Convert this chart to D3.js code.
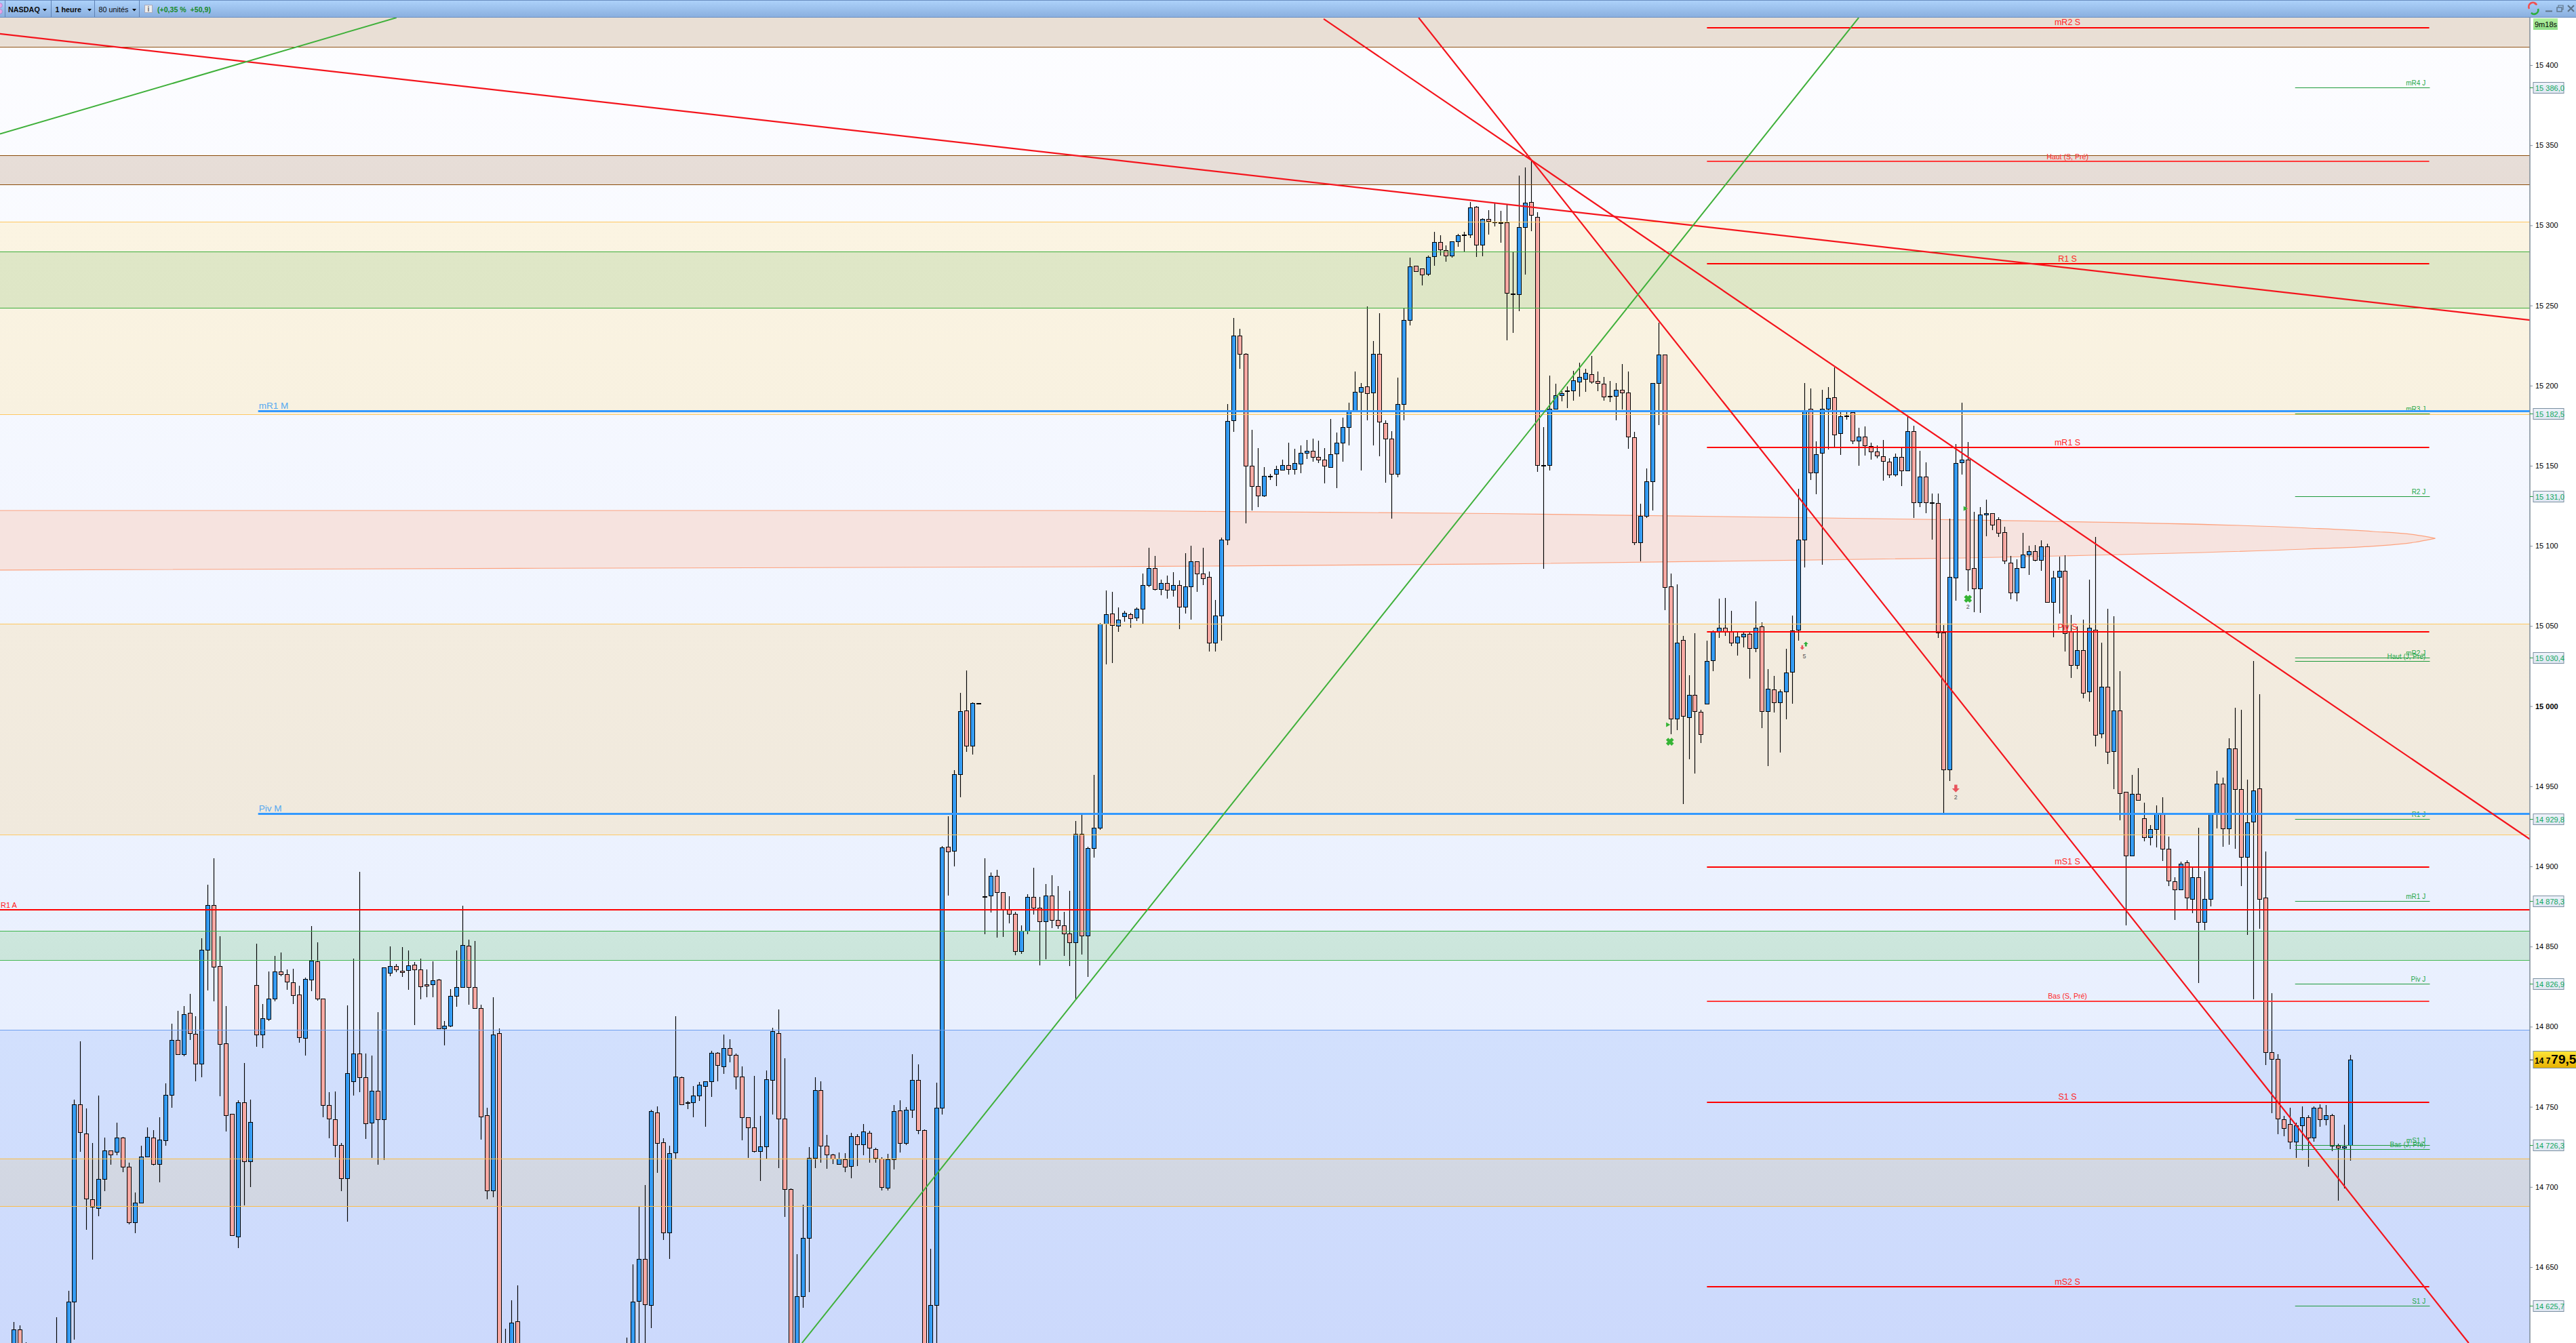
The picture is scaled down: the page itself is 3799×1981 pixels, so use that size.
<!DOCTYPE html>
<html><head><meta charset="utf-8">
<script src="https://d3js.org/d3.v7.min.js"></script>
<style>html,body{margin:0;padding:0;background:#fff;overflow:hidden}svg{display:block;font-family:"Liberation Sans",Arial,sans-serif}</style>
</head><body>
<svg id="c" width="3799" height="1981"></svg>
<script>
// ---- values ----
const firstBar = -9;
const n = null;
const N17 = Array(17).fill(null);
const directions = ("UDD----U-"+"UUDDDUUDUD"+"DUUUDUUUDU"+"DDUUDDDDUD"+"UDUUUDDDDU"+"UDDDDDUUDD"+"UDUUDDUDDD"+"UDUUUUDDDD"+"UDDUD"+"-----------------"+"UUUDUDDU"+"UDDUUUUDUD"+"DDDDUUUDDD"+"UUUUDDDUDU"+"DUDDDUUDUU"+"DDUUUDUUDU"+"UDUDDDDUUD"+"DUDDDDUDUU"+"UUDUUDUUUD"+"UDUDUUDDDU"+"UUUDDDDUDU"+"UDUUUDDDUU"+"UUUUDUDDDU"+"UUDDUUDDUU"+"UUDUDDDDDU"+"UDDDUUUUUU"+"UDDDDUDDDU"+"UUUDDUDUDD"+"UUUDDUUDUD"+"UDUUUUUDUU"+"UDUDDUDDDD"+"DUDUDUDDDD"+"UUUDDUUDDD"+"DUUUDUDUUD"+"DUDUDUDUDD"+"UDDUUDDDUD"+"UDUUUDUDDU"+"UDDDDDDUUD"+"UDUDDUU").split("");
const highs = [14615.6,14613.6,14603.2,n,n,n,n,14618.8,n,
14635.1,14754.4,14790.9,14748.9,14727.4,14757,14730.8,14722.9,14740,14731.4,
14715.2,14696.5,14725.6,14737.1,14735.5,14743.4,14764.7,14801.8,14810,14812.8,
14820.5,14806.5,14855,14888.5,14905.1,14856.4,14812.8,14745.6,14754,14777.5,
14754.6,14851.7,14814.2,14834.3,14844,14846.3,14835.9,14836.1,14825.4,14830.6,
14862.7,14852.6,14817.7,14759.2,14759.6,14727.6,14813.2,14842.4,14896.6,14783.4,
14781.8,14809,14837,14850.1,14839.2,14849.7,14847.5,14840.2,14842.4,14835.7,
14840.8,14829.8,14803.5,14823.3,14847.5,14875.5,14854.2,14853.4,14813.6,14749.5,
14818.5,14799,14611.3,14629.2,14638.5,...N17,
14606,14651.8,14687.5,14701,14748.1,14750.3,14730.4,14725.9,
14806.4,14768.8,14753.7,14763,14765.6,14766.1,14784.9,14784.1,14795,14792.1,
14783.3,14775.1,14743.4,14769.3,14744.2,14772.8,14799.5,14810.6,14780.2,14698.9,
14657.9,14688.8,14724.8,14768.5,14766.1,14732.5,14720.6,14721.7,14721.1,14733.8,
14733,14739.1,14734.9,14724.3,14718.5,14720.6,14751.3,14754.2,14749.7,14782.8,
14776.5,14735.7,14661.3,14765.1,14912.5,14931.2,14960,15008.3,15022.2,15002.4,
15001.8,14905.1,14896.4,14897.8,14884.1,14881.3,14871.6,14863.2,14882.6,14899.1,
14881,14889,14894.4,14887.6,14871.6,14884.7,14928.3,14932.5,14912.2,14957.1,
15051.9,15072.2,15071.3,15061.6,15059.5,15058.2,15061.6,15082.7,15098.8,15093.7,
15078.9,15081.5,15083.6,15078.5,15095.4,15100.1,15090.2,15098.8,15083.9,15066.3,
15105.1,15188.3,15242.4,15235.5,15220.2,15172.3,15161,15149.2,15145,15150,
15153.7,15164.4,15160.5,15162.6,15166,15167,15165.7,15161,15179.1,15170.7,
15180.1,15189.3,15208.7,15201.5,15249.2,15227.8,15245,15178.3,15171.5,15205,
15248.1,15279.9,15274.6,15273,15281,15295.9,15293.8,15287.5,15290,15294.5,
15295.8,15314.6,15312,15304.4,15309.5,15314.3,15309.1,15312.9,15283.3,15331,
15336.1,15339.8,15308.1,15174.1,15206.2,15201.1,15196.6,15199.4,15209.1,15214.2,
15210.5,15218.5,15208.7,15205.3,15202.9,15201.5,15213.4,15208.7,15171,15126.5,
15148.4,15201.8,15239.3,15219.3,15082.8,15075.9,15043.7,15019.2,15045.5,14997.6,
15040.9,15047.1,15067.2,15067.4,15059.5,15046.7,15045.9,15046.9,15065.2,15052.4,
15023.3,15018.8,15010.5,15035.8,15056.5,15135.6,15201.4,15198.1,15165.1,15197.3,
15199.1,15211.5,15183.6,15183.8,15183.6,15173.6,15174.5,15164.3,15162.7,15165.9,
15154.8,15157.5,15161.7,15180.9,15174.9,15159.5,15152,15132.8,15132.8,15050.8,
15116.8,15163.7,15189.2,15164.8,15121.2,15124.4,15128.7,15120.5,15118,15112.1,
15093.6,15091.8,15108.2,15100,15100.5,15103.5,15101.3,15084.3,15093.4,15094,
15056.9,15049.8,15054.1,15078.9,15105.4,15039.6,15060.8,15056,15021.9,14946.6,
14957.2,14961.3,14939.7,14925.9,14938.2,14943.2,14918.6,14893.3,14903,14903.9,
14900.2,14924.2,14897,14933.2,14959.6,14955.5,14980.1,14999,14997.8,14954.2,
15028,15007.5,14909.3,14820.9,14782.8,14744.2,14749.2,14740,14750.1,14744.6,
14750.1,14751.4,14751,14745.5,14726.9,14738.7,14782.6];
const bodyTops = [14610.9,14610.9,14598,n,n,n,n,14598,n,
14628.6,14751.7,14751.7,14733.5,14692.5,14705.1,14722.9,14722.9,14731,14731,
14712.8,14690,14719.1,14731.4,14731,14729.4,14757.6,14791.5,14791.5,14807.9,
14808.5,14795.7,14848.1,14875.7,14875.7,14838,14789.7,14745.4,14753,14753,
14740.6,14825.8,14805.3,14817.7,14834.5,14834.5,14832.9,14827.8,14819.9,14829.6,
14841,14840.6,14817.7,14751.3,14742.4,14726.2,14770.8,14783.4,14783.4,14768.6,
14759.8,14759.8,14837,14838,14838,14834.7,14838.4,14838.8,14835.9,14826.2,
14828.8,14829.2,14800.4,14819.3,14824.8,14851.1,14850.7,14824.8,14811.8,14744.6,
14795.3,14796,14600,14615.4,14616,...N17,
14598,14628.5,14655.2,14655.2,14747.1,14746.5,14727.8,14721.1,
14768.8,14768.3,14752.9,14757.1,14764,14766.1,14783.6,14783.6,14786.5,14786.5,
14782.5,14769,14743.4,14737.3,14725.1,14767.2,14797.1,14796,14742.8,14698.6,
14631.9,14668.2,14718,14760.6,14760.6,14725.9,14720.3,14717.7,14717.4,14731.7,
14731.7,14734.4,14733.8,14723.8,14717.7,14717.2,14747.3,14747.9,14748.1,14766.9,
14766.9,14735.4,14626.4,14749.2,14912,14912.1,14957.7,14996.8,14997.1,15001.8,
15001.8,14881.5,14893.9,14893.9,14883.8,14872.9,14870.6,14859.9,14880.8,14880.8,
14874,14882,14882,14866.7,14863,14858.3,14920.5,14920.2,14911.3,14924.2,
15051.3,15057.2,15057.6,15053.8,15058.1,15057.5,15060.6,15075.4,15086,15086,
15076.7,15076.7,15075.4,15075.4,15074.6,15090.2,15090.2,15082.6,15080.8,15056.6,
15104,15178.1,15231.4,15231.4,15219.6,15149.8,15137.2,15143.8,15143.5,15147.7,
15150.3,15150.3,15151.9,15158.2,15159.5,15159.5,15155.3,15154,15157.4,15164.5,
15174.3,15184.5,15196.3,15199.2,15199.4,15220,15220,15176.5,15166.8,15188.3,
15240.8,15274.2,15274.6,15273,15280.2,15289.4,15289.4,15284.4,15289.9,15293.7,
15294.1,15311,15311.4,15303.8,15303.8,15302.4,15301.9,15302,15257.3,15298.8,
15314,15314.4,15305.1,15150.6,15185.6,15194.2,15195.1,15196.8,15203.1,15205.3,
15207.8,15207.3,15202.8,15201,15193.5,15197.2,15197.2,15195.5,15167.9,15118.6,
15140.4,15201.5,15219.3,15219.3,15074.5,15039.6,15041.1,15007.1,15007.1,14996.5,
15028.3,15046.3,15049,15049,15046.3,15043.5,15044.9,15044.9,15049,15049.6,
15010.9,15010.5,15009.3,15021,15047.3,15104,15184.6,15185.4,15157.4,15185.4,
15192.5,15192.9,15180.7,15181.1,15183.6,15168.4,15168,15162.3,15158.7,15156,
15152.4,15155.6,15155.6,15171.4,15171.4,15143.1,15143.1,15127.3,15126.9,15045.9,
15080.7,15151.8,15154,15154,15086,15119.7,15120.5,15120.5,15116.5,15108.7,
15089.7,15086.2,15094.4,15096.6,15096.6,15099.8,15099.8,15080.4,15084.3,15084.3,
15046.5,15035.1,15035.1,15048.7,15047.8,15012.2,15012,14997.5,14997.1,14946.4,
14945.1,14945.1,14930.2,14923.1,14933.2,14933.2,14911.2,14890.5,14901.9,14902.4,
14893.1,14893.1,14879.5,14932.8,14951.8,14951.4,14973.4,14973.4,14948.1,14927.4,
14947.3,14948.8,14880.4,14784.3,14780,14742.4,14739.1,14738.5,14743.3,14743.3,
14749.5,14749.5,14744.6,14744.6,14725.6,14725.5,14779.5];
const bodyBottoms = [14590,14590,14590,n,n,n,n,14585,n,
14590,14628.6,14734.3,14692.9,14687.6,14687,14705.1,14720.3,14722.1,14712.4,
14678.1,14678.1,14690,14719.1,14714.4,14714.4,14729.2,14757.6,14783,14783,
14796,14776.7,14776.7,14848.1,14837.5,14789.3,14744.6,14670,14669.2,14715.8,
14715.8,14794.9,14795.3,14804.9,14817.7,14832.9,14828.2,14819.7,14793.5,14793.1,
14829.2,14817.7,14751.3,14742.8,14726.2,14705.5,14705.5,14765.7,14768.6,14739.8,
14740.2,14742.4,14742.4,14833.7,14835.5,14834.1,14835.1,14835.9,14825.2,14825.6,
14826.2,14799,14799,14800.6,14819.3,14824.8,14824.8,14811.4,14744,14697.6,
14698,14590,14590,14590,14590,...N17,
14590,14590,14628.8,14626.9,14626.1,14727.5,14671.4,14671.4,
14721.4,14751.6,14752.4,14752.6,14756.9,14763,14766.1,14775.9,14775.4,14782.5,
14768.8,14743.4,14737.3,14722.2,14722.2,14725.1,14766.9,14742.8,14698.6,14590,
14590,14631.7,14668.2,14718.2,14725.9,14720.3,14717.7,14714.5,14712.7,14712.9,
14726.4,14726.4,14724.3,14718.2,14700,14699.7,14717.4,14727.2,14727.5,14748.1,
14735.4,14590,14590,14626.4,14749.2,14909.5,14909.8,14957.7,14975.5,14975.5,
15001.8,14880.8,14881.6,14883.8,14872.9,14870.6,14847.3,14847.3,14859.9,14874,
14865.9,14865.9,14866.4,14863,14858.3,14852.8,14852.8,14857,14856.7,14911.6,
14924.2,15051.5,15050.4,15050,15056,15054.7,15055.1,15060.6,15075.4,15072.9,
15072.9,15072.4,15072.4,15061.9,15061.9,15074.6,15082.6,15079.6,15039.4,15039.4,
15056.6,15104,15178.5,15219.9,15149.8,15137.2,15131.2,15131.2,15143.2,15144.8,
15147.4,15148,15147.7,15151.4,15158.2,15155.3,15154,15149.8,15149.3,15157.7,
15164.5,15174.3,15184.5,15196.3,15195.1,15195.5,15177.3,15167.1,15145.1,15145.1,
15188.3,15240.8,15271.3,15269.2,15269.6,15280.6,15284.8,15281,15281,15289.9,
15293.7,15294.1,15287.8,15287.8,15302.6,15301.7,15301.7,15257.7,15256.9,15256.9,
15298.8,15306.4,15150.6,15150.1,15150.6,15185.6,15194.2,15196.4,15196.8,15202.6,
15204.2,15202.3,15201.5,15193,15193.2,15193.4,15195.6,15168.1,15102.4,15102.4,
15118.6,15140.4,15201.8,15074.2,14992.3,14992.3,14993.7,14993.1,14997,14982.6,
15001.4,15028.7,15046.3,15046.3,15039.6,15039.6,15043.5,15036.4,15036.4,14997,
14997,15002.4,15002.4,15009.3,15021.6,15047.8,15104,15145.9,15145.9,15157.9,
15185.4,15169.6,15170.4,15180.7,15165.8,15165.8,15162.5,15158.7,15156.4,15153,
15144.7,15144.7,15147.1,15147.1,15127.3,15127.3,15127.3,15127.1,15045.9,14960.5,
14960.5,15080.3,15152.2,15085.4,15073.3,15073.3,15119.7,15113,15108.2,15090.6,
15070.7,15070.7,15086.4,15094.4,15091.4,15091,15065.1,15065.1,15080.8,15045.7,
15025.8,15025.8,15008.5,15009,14982.2,14982.7,14971.6,14972.1,14945.5,14906.9,
14906.9,14941.6,14918.3,14918.3,14923.1,14911.2,14891,14885.8,14885.5,14880.4,
14879.9,14865.5,14865.5,14879.9,14933.2,14923.9,14923.5,14948.1,14905.8,14905.8,
14927.8,14879.9,14784.3,14780,14742.7,14736.9,14728.4,14728.4,14738.5,14731,
14731,14742.2,14742.4,14725.6,14724.5,14724.5,14726.2];
const lows = [14580,14585,14585,n,n,n,n,14580,n,
14580,14604.6,14722.1,14673.2,14654.6,14681.7,14697.2,14713.8,14719.7,14709.3,
14676.7,14671,14690,14719.1,14713.6,14702.8,14725.6,14749.3,14782.4,14781.5,
14791.7,14765.9,14768.4,14822.5,14815.8,14756.6,14734.5,14669.4,14661.9,14688.4,
14699.8,14787.4,14786.6,14803.5,14815.8,14831.3,14823.1,14814.2,14789.9,14781.8,
14822.1,14816.2,14743.4,14730.4,14718.5,14697.2,14678.3,14757.2,14759.2,14730,
14718.1,14713.8,14716.8,14831.3,14833.9,14830.9,14823.1,14801,14817.1,14818.3,
14818.3,14799,14788.4,14799.8,14812.4,14824.4,14813.6,14811,14729.6,14692.3,
14693.5,14580,14585,14580,14580,...N17,
14585,14580,14600,14600,14611.8,14708.7,14666.9,14655.2,
14717.2,14751,14748.4,14743.4,14753.7,14737.5,14756.1,14766.1,14770.6,14777.8,
14760.8,14729.1,14718,14721.7,14703.7,14717.2,14745,14711.6,14681.2,14580,
14580,14624.5,14634.3,14711.6,14715,14711.3,14714.5,14714.5,14709.2,14705.3,
14713.2,14719.8,14715,14715,14697.8,14697.6,14710.8,14721.4,14726.2,14743.1,
14732.8,14580,14580,14600,14745.2,14881.8,14899.9,14943.3,14971.5,14969.9,
15001.8,14857.8,14871.3,14855.6,14855.9,14864.5,14844.7,14845.5,14857.8,14870,
14838.4,14842,14861.4,14861.1,14844.2,14837.9,14816.6,14844.9,14831,14905.6,
14922.9,15026.2,15026.7,15046.5,15052.7,15048.9,15053.1,15051.4,15074.3,15072.2,
15069.2,15067.2,15068.4,15048.1,15057.8,15054,15071.3,15075.6,15034.2,15034.2,
15041,15100.6,15171.3,15210.5,15114.2,15122,15124.4,15130.7,15141.1,15137.3,
15147.4,15144.6,15144.6,15145.3,15154.2,15152.6,15151.8,15139,15148.8,15136.2,
15152.6,15162.6,15184.5,15147.1,15178.3,15162.6,15156.1,15139.4,15116.8,15143,
15178.3,15237.6,15271.3,15262.5,15268.6,15274.9,15281.3,15277.5,15279.9,15286.6,
15283.7,15292.3,15280.4,15280.9,15294.2,15299.3,15289.2,15228.3,15233.1,15246.6,
15269.4,15296.5,15146.3,15085.9,15147.1,15185.1,15190,15186.1,15190.6,15193.2,
15196.1,15201,15196.4,15190.8,15189.8,15178.5,15185.3,15160.5,15100.3,15090.4,
15117.3,15122.1,15175.4,15060,14982.6,14985.2,14939.1,14967,14958.1,14977.1,
15001,15022,15042.7,15043.9,15037.6,15031.6,15036.8,15017.2,15033.6,14986.2,
14962.7,14995.9,14971,14991.7,15001.4,15040.9,15086.4,15141.1,15132.1,15088.4,
15160.3,15161.7,15156.6,15178.9,15163.7,15150.2,15156.2,15153.6,15154.8,15140.6,
15142.3,15143.1,15137.2,15146.7,15117.4,15124.3,15120.2,15103.8,15042.7,14932,
14953.4,15066,15144.7,15071.6,15058.6,15058.2,15106.1,15109.8,15105.7,15088.6,
15066.6,15065.3,15086.4,15081.9,15090.3,15084.3,15064.9,15043.1,15057.8,15034,
15017.6,15023,15005.1,15002.9,14974.9,14980.1,14963.7,14948.3,14928.7,14863.3,
14906.9,14941,14915.8,14913.2,14911.9,14903.5,14887.7,14866.5,14885.5,14873.2,
14870.9,14827.3,14860.3,14875,14923.7,14912.3,14913.6,14911,14887.8,14857.2,
14817.2,14861.2,14776,14746.2,14732.8,14731.5,14723.8,14718.3,14722.9,14712.8,
14728.2,14737.4,14738.3,14722.5,14691.6,14699,14716.5];

// axis
const axisTicks = [15400,15350,15300,15250,15200,15150,15100,15050,15000,14950,14900,14850,14800,14750,14700,14650];
const boldTick = 15000;
const lastPrice = 14779.5;

// price zones
const zoneNames   = ["top","haut","or1","vert1","or2","vert2","gris"];
const zoneTops    = [15445,15343.6,15302.2,15283.5,15051.3,14859.7,14717.8];
const zoneBottoms = [15411.6,15325.4,15182.3,15248.4,14920,14841.8,14687.9];
const zoneFills   = [["#e9dfd5","#e9dfd5"],["#e7ded8","#e6dcd6"],["#fbf4e2","#f8f1e0"],["#dfe7c7","#dee6c6"],["#f3ecdf","#f0e9dd"],["#cde7dd","#cbe5db"],["#d3d8e3","#d1d6e2"]];
const zoneLines   = ["#8a4a08","#8a4a08","#ffc75e","#3cae3c","#ffc75e","#3cb54a","#fbbd4a"];
const deepLevel = 14797.9;

// cloud outline (bar position, upper price, lower price)
const cloudBars  = [-12,78,168.6,188,234.5,312.8,368.6,379.8,386.5,390];
const cloudUpper = [15122.1,15122.1,15122.1,15121.5,15120.2,15116.2,15111.2,15109,15107,15104.7];
const cloudLower = [15084.9,15086,15087,15087.4,15088.7,15092.5,15098,15099.8,15102.2,15104.7];

// trend lines: bar1, price1, bar2, price2
const redTrends   = [[-11.23,15419.5,405.6,15240.9],[206.85,15428.8,405.6,14916.9],[222.5,15429.6,395.5,14602.6]];
const greenTrends = [[-11.23,15357,54.1,15429.6],[120.9,14602.6,295,15429.6]];

// weekly levels
const weeklyLabels = ["mR2 S","Haut (S, Pré)","R1 S","mR1 S","Piv S","mS1 S","Bas (S, Pré)","S1 S","mS2 S"];
const weeklyLevels = [15423.4,15339.9,15276,15161.3,15046.3,14899.6,14815.9,14752.9,14637.6];
const weeklySmall  = [0,1,0,0,0,0,1,0,0];
// daily levels
const dailyLabels = ["mR4 J","mR3 J","R2 J","mR2 J","Haut (J, Pré)","R1 J","mR1 J","Piv J","mS1 J","Bas (J, Pré)","S1 J"];
const dailyLevels = [15386,15182.5,15131,15030.4,15028,14929.8,14878.3,14826.9,14726.3,14723.8,14625.7];
const dailyTagged = [1,1,1,1,0,1,1,1,1,0,1];
// monthly
const monthlyLabels = ["mR1 M","Piv M"];
const monthlyLevels = [15184.4,14933.2];
const annualLabel = "R1 A", annualLevel = 14873;

// markers: bar, price
const crossMarks = [[263.9,14977.8,""],[313,15067,"2"]];
const triMarks   = [[263.5,14988.4],[312.5,15123.3]];
const downArrows = [[311,14948.6,"2",10],[285.7,15036.6,"5",6]];
const upArrows   = [[286.3,15038.8]];

// ---- scales ----
const chartR = 3731, barTop = 26, H = 1981;
const x = d3.scaleLinear().domain([0,376]).range([100.5,3466.2]);
const y = d3.scaleLinear().domain([15400,14900]).range([96,1278]);
const crisp = (v,w)=> (w%2===1) ? Math.round(v)+.5 : Math.round(v);
const svg = d3.select("#c");
const defs = svg.append("defs");
function vgrad(id,a,b){const g=defs.append("linearGradient").attr("id",id).attr("x1",0).attr("x2",0).attr("y1",0).attr("y2",1);g.append("stop").attr("offset",0).attr("stop-color",a);g.append("stop").attr("offset",1).attr("stop-color",b);}
function hgrad(id,a,b){const g=defs.append("linearGradient").attr("id",id).attr("x1",0).attr("x2",1).attr("y1",0).attr("y2",0);g.append("stop").attr("offset",0).attr("stop-color",a);g.append("stop").attr("offset",1).attr("stop-color",b);}
vgrad("bgHi","#fdfdff","#e8effe");vgrad("bgLo","#d2e0fd","#ccd9fc");
vgrad("tool","#aed3fb","#89aede");vgrad("gold","#ffe63a","#e6b000");vgrad("tag","#eef2fa","#dfe6f2");vgrad("timer","#b4f0a0","#8fe088");
hgrad("up","#2b8fe8","#3ea8ff");hgrad("dn","#f59c98","#fbb6ae");
zoneFills.forEach((f,i)=>vgrad("z"+i,f[0],f[1]));
defs.append("clipPath").attr("id","clip").append("rect").attr("x",0).attr("y",barTop).attr("width",chartR).attr("height",H-barTop);

const plot = svg.append("g").attr("clip-path","url(#clip)");
plot.append("rect").attr("x",0).attr("width",chartR).attr("y",barTop).attr("height",y(deepLevel)-barTop).attr("fill","url(#bgHi)");
plot.append("rect").attr("x",0).attr("width",chartR).attr("y",y(deepLevel)).attr("height",H-y(deepLevel)).attr("fill","url(#bgLo)");
zoneNames.forEach((nm,i)=>{
  plot.append("rect").attr("x",0).attr("width",chartR).attr("y",y(zoneTops[i])).attr("height",y(zoneBottoms[i])-y(zoneTops[i])).attr("fill",`url(#z${i})`);
});
const cloud = d3.area().x((d,i)=>x(cloudBars[i])).y0((d,i)=>y(cloudLower[i])).y1((d,i)=>y(cloudUpper[i])).curve(d3.curveMonotoneX);
plot.append("path").attr("d",cloud(cloudBars)).attr("fill","#f6e3df").attr("stroke","#fda27e").attr("stroke-width",1.1);

// candles
const bars = directions.map((d,i)=>({d,i:i+firstBar,h:highs[i],l:lows[i],t:bodyTops[i],b:bodyBottoms[i]})).filter(b=>b.d!=="-");
const cg = plot.append("g");
const cx = b=>Math.round(x(b.i));
cg.selectAll("line").data(bars).join("line").attr("x1",b=>cx(b)+.5).attr("x2",b=>cx(b)+.5).attr("y1",b=>Math.round(y(b.h))).attr("y2",b=>Math.round(y(b.l))).attr("stroke","#000").attr("stroke-width",1.15);
cg.selectAll("rect").data(bars).join("rect").attr("x",b=>cx(b)-2.5).attr("width",6).attr("y",b=>Math.round(y(b.t))+.5).attr("height",b=>Math.max(1,Math.round(y(b.b))-Math.round(y(b.t)))).attr("fill",b=>b.d==="U"?"url(#up)":"url(#dn)").attr("stroke","#000").attr("stroke-width",1);

// zone border lines
zoneNames.forEach((nm,i)=>{
  [zoneTops[i],zoneBottoms[i]].forEach(p=>{ if(p<15440) plot.append("line").attr("x1",0).attr("x2",chartR).attr("y1",crisp(y(p),1)).attr("y2",crisp(y(p),1)).attr("stroke",zoneLines[i]).attr("stroke-width",1);});
});
plot.append("line").attr("x1",0).attr("x2",chartR).attr("y1",crisp(y(deepLevel),1)).attr("y2",crisp(y(deepLevel),1)).attr("stroke","#6d9ff0").attr("stroke-width",1);

// horizontal levels
const wx0=270, wx1=389, dx0=366.9, dx1=389.1;
const hl = plot.append("g");
dailyLevels.forEach((p,i)=>{
  hl.append("line").attr("x1",x(dx0)).attr("x2",x(dx1)).attr("y1",crisp(y(p),1)).attr("y2",crisp(y(p),1)).attr("stroke","#1d9a3c").attr("stroke-width",1);
  hl.append("text").attr("x",x(388.4)).attr("y",y(p)-3).attr("text-anchor","end").attr("font-size",10).attr("fill","#1fa84a").text(dailyLabels[i]);
});
monthlyLevels.forEach((p,i)=>{
  hl.append("line").attr("x1",x(31.3)).attr("x2",chartR).attr("y1",crisp(y(p),3)).attr("y2",crisp(y(p),3)).attr("stroke","#3399ff").attr("stroke-width",3);
  hl.append("text").attr("x",x(31.3)+1).attr("y",y(p)-3).attr("font-size",13.5).attr("fill","#55a8f0").text(monthlyLabels[i]);
});
hl.append("line").attr("x1",0).attr("x2",chartR).attr("y1",crisp(y(annualLevel),2)).attr("y2",crisp(y(annualLevel),2)).attr("stroke","#ff0000").attr("stroke-width",2);
hl.append("text").attr("x",1).attr("y",y(annualLevel)-3).attr("font-size",11).attr("fill","#ff1a1a").text(annualLabel);
weeklyLevels.forEach((p,i)=>{
  hl.append("line").attr("x1",x(wx0)).attr("x2",x(wx1)).attr("y1",crisp(y(p),2)).attr("y2",crisp(y(p),2)).attr("stroke",weeklySmall[i]?"#ff3a3a":"#ff0000").attr("stroke-width",2);
  hl.append("text").attr("x",x(329.4)).attr("y",y(p)-3.5).attr("text-anchor","middle").attr("font-size",weeklySmall[i]?10.6:12.5).attr("fill","#ff2626").text(weeklyLabels[i]);
});

// trends
const lg = plot.append("g").attr("fill","none");
redTrends.forEach(t=>lg.append("line").attr("x1",x(t[0])).attr("y1",y(t[1])).attr("x2",x(t[2])).attr("y2",y(t[3])).attr("stroke","#f4141c").attr("stroke-width",2.2));
greenTrends.forEach(t=>lg.append("line").attr("x1",x(t[0])).attr("y1",y(t[1])).attr("x2",x(t[2])).attr("y2",y(t[3])).attr("stroke","#3fb03a").attr("stroke-width",2));

// markers
const mg = plot.append("g");
crossMarks.forEach(m=>{
  mg.append("path").attr("transform",`translate(${x(m[0])},${y(m[1])}) rotate(45)`).attr("d",d3.symbol(d3.symbolCross,62)()).attr("fill","#35b435").attr("stroke","#35b435").attr("stroke-width",1.2);
  if(m[2]) mg.append("text").attr("x",x(m[0])).attr("y",y(m[1])+15).attr("text-anchor","middle").attr("font-size",9).attr("fill","#555").text(m[2]);
});
triMarks.forEach(m=>mg.append("path").attr("transform",`translate(${x(m[0])},${y(m[1])}) rotate(90)`).attr("d",d3.symbol(d3.symbolTriangle,22)()).attr("fill","#35b435"));
const arrow="M-2,-5H2V0H5L0,5L-5,0H-2Z";
downArrows.forEach(m=>{
  mg.append("path").attr("transform",`translate(${x(m[0])},${y(m[1])}) scale(${m[3]/9})`).attr("d",arrow).attr("fill","#e8545c");
  mg.append("text").attr("x",x(m[0])+(m[2]==="5"?3:0)).attr("y",y(m[1])+16).attr("text-anchor","middle").attr("font-size",9).attr("fill","#555").text(m[2]);
});
upArrows.forEach(m=>mg.append("path").attr("transform",`translate(${x(m[0])},${y(m[1])}) scale(.7) rotate(180)`).attr("d",arrow).attr("fill","#2fae3a"));

// axis
const loc = d3.formatLocale({decimal:",",thousands:"\u00a0",grouping:[3],currency:["",""]});
const fmt0 = loc.format(",.0f"), fmt1 = loc.format(",.1f");
const ax = svg.append("g").attr("transform",`translate(${chartR},0)`);
ax.append("rect").attr("width",3799-chartR).attr("y",26).attr("height",H-26).attr("fill","#fff");
ax.append("line").attr("y1",26).attr("y2",H).attr("stroke","#7f8c99").attr("stroke-width",1.5);
const axisG = ax.append("g").call(d3.axisRight(y).tickValues(axisTicks).tickFormat(fmt0).tickSize(4).tickPadding(4));
axisG.select(".domain").remove();
axisG.selectAll("line").attr("stroke","#7f8c99");
axisG.selectAll("text").attr("font-size",11).attr("font-family","Liberation Sans").attr("fill","#000").attr("font-weight",d=>d===boldTick?"bold":"normal");
dailyLevels.forEach((p,i)=>{ if(!dailyTagged[i])return;
  const g=ax.append("g").attr("transform",`translate(0,${Math.round(y(p))+.5})`);
  g.append("line").attr("x2",5).attr("stroke","#1d9a3c");
  g.append("rect").attr("x",5).attr("y",-8).attr("width",45).attr("height",16).attr("fill","url(#tag)").attr("stroke","#7a8fa0").attr("stroke-width",1);
  g.append("text").attr("x",8).attr("y",4).attr("font-size",11).attr("fill","#10a860").text(fmt1(p));
});
const lastStr = fmt1(lastPrice);
const lp = ax.append("g").attr("transform",`translate(0,${Math.round(y(lastPrice))+.5})`);
lp.append("line").attr("x2",5).attr("stroke","#333");
lp.append("rect").attr("x",5).attr("y",-13).attr("width",64).attr("height",25).attr("fill","url(#gold)").attr("stroke","#7a8fa0");
const lpT=lp.append("text").attr("x",7).attr("y",5).attr("fill","#000").attr("font-weight","bold");
lpT.append("tspan").attr("font-size",12).text(lastStr.slice(0,4));
lpT.append("tspan").attr("font-size",19).attr("dx",1).text(lastStr.slice(4));
ax.append("rect").attr("x",5).attr("y",27).attr("width",36).attr("height",17).attr("fill","url(#timer)");
ax.append("text").attr("x",7).attr("y",40).attr("font-size",11).attr("fill","#000").text("9m18s");

// toolbar
const tb = svg.append("g");
tb.append("rect").attr("width",3799).attr("height",26).attr("fill","url(#tool)");
tb.append("line").attr("x2",3799).attr("y1",.5).attr("y2",.5).attr("stroke","#6a8ec0");
tb.append("line").attr("x2",3799).attr("y1",25.5).attr("y2",25.5).attr("stroke","#6a8ec0");
[7.5,75.5,139.5,205.5].forEach(s=>tb.append("line").attr("x1",s).attr("x2",s).attr("y1",0).attr("y2",25).attr("stroke","#5f82b4"));
[8,17].forEach(c=>tb.append("circle").attr("cx",0).attr("cy",c).attr("r",3.4).attr("fill","#e8a6e8").attr("stroke","#a070c0").attr("stroke-width",.6));
const ttxt=(t,xx,w,c="#0a0a0a",fs=10.8)=>tb.append("text").attr("x",xx).attr("y",18).attr("font-size",fs).attr("font-weight",w).attr("fill",c).text(t);
ttxt("NASDAQ",12,"bold");ttxt("1 heure",81.5,"bold");ttxt("80 unités",145.5,"normal");
[66,132,198].forEach(c=>tb.append("path").attr("d",`M${c-3},13L${c+3},13L${c},16.5Z`).attr("fill","#000"));
tb.append("rect").attr("x",213.5).attr("y",7.5).attr("width",11).attr("height",11).attr("fill","#eee").attr("stroke","#aab");
tb.append("text").attr("x",219).attr("y",17).attr("text-anchor","middle").attr("font-size",10).attr("font-weight","bold").attr("fill","#666").text("i");
ttxt("(+0,35 %  +50,9)",232,"bold","#188a28",10.6).style("white-space","pre");
tb.append("path").attr("d","M3730,13 A6,6 0 0 1 3741,7 L3738,5").attr("fill","none").attr("stroke","#f05050").attr("stroke-width",2.6);
tb.append("path").attr("d","M3743,13 A6,6 0 0 1 3733,19 L3736,21").attr("fill","none").attr("stroke","#2cae3c").attr("stroke-width",2.6);
tb.append("line").attr("x1",3754).attr("x2",3764).attr("y1",16.5).attr("y2",16.5).attr("stroke","#5f7488").attr("stroke-width",2);
tb.append("rect").attr("x",3771).attr("y",11).attr("width",7).attr("height",6).attr("fill","none").attr("stroke","#5f7488").attr("stroke-width",1.4);
tb.append("path").attr("d","M3773,10V8H3780V14H3778").attr("fill","none").attr("stroke","#5f7488").attr("stroke-width",1.2);
tb.append("path").attr("d","M3787,8L3796,17M3796,8L3787,17").attr("stroke","#5f7488").attr("stroke-width",2.2);
</script>
</body></html>
